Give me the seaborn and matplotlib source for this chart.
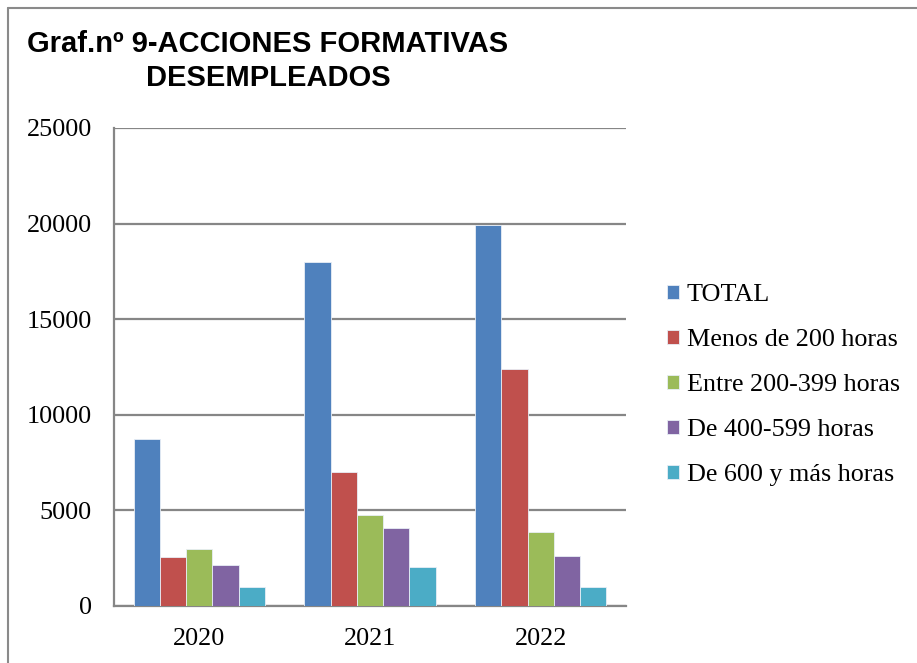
import matplotlib
matplotlib.use('Agg')
import matplotlib.pyplot as plt
import seaborn as sns
import pandas as pd
from matplotlib.lines import Line2D

# ---------------------------------------------------------------------------
# Data
# ---------------------------------------------------------------------------
years  = ['2020', '2021', '2022']
series = ['TOTAL', 'Menos de 200 horas', 'Entre 200-399 horas',
          'De 400-599 horas', 'De 600 y más horas']

total      = [8750, 17980, 19930]
menos200   = [2540, 7020, 12380]
entre200   = [2960, 4770, 3880]
de400      = [2170, 4070, 2610]
de600      = [1000, 2030, 1010]

colors = ['#4F81BD', '#C0504D', '#9BBB59', '#8064A2', '#4BACC6']

rows = []
for s, vals in zip(series, [total, menos200, entre200, de400, de600]):
    for y, v in zip(years, vals):
        rows.append({'year': y, 'serie': s, 'value': v})
df = pd.DataFrame(rows)

# ---------------------------------------------------------------------------
# Plot
# ---------------------------------------------------------------------------
sns.set_style('white')
plt.rcParams['font.family'] = ['Liberation Serif', 'DejaVu Serif']
plt.rcParams['text.color'] = 'black'
plt.rcParams['xtick.color'] = 'black'
plt.rcParams['ytick.color'] = 'black'

fig = plt.figure(figsize=(9.17, 6.63), dpi=100)
ax = fig.add_axes([114 / 917, 1 - 606 / 663, 512 / 917, 478 / 663])

sns.barplot(data=df, x='year', y='value', hue='serie', hue_order=series,
            order=years, palette=colors, width=0.77, gap=0, ax=ax,
            edgecolor='#e8eef6', linewidth=0.6, saturation=1, zorder=3)

ax.set_ylim(0, 25000)
ax.set_yticks(range(0, 25001, 5000))
ax.yaxis.grid(True, color='#868686', linewidth=1.6, zorder=0)
ax.set_axisbelow(True)
ax.set_xlabel('')
ax.set_ylabel('')
ax.tick_params(axis='y', length=0, pad=16, labelsize=18.8)
ax.tick_params(axis='x', length=0, pad=16, labelsize=18.8)
for side in ['top', 'right']:
    ax.spines[side].set_visible(False)
for side in ['left', 'bottom']:
    ax.spines[side].set_color('#868686')
    ax.spines[side].set_linewidth(1.6)

ax.legend(loc='center left', bbox_to_anchor=(667 / 917, 1 - 385 / 663),
          bbox_transform=fig.transFigure, frameon=False, fontsize=18.8,
          handlelength=0.45, handleheight=0.45, handletextpad=0.3,
          labelspacing=0.88, borderaxespad=0, borderpad=0)

fig.text(268 / 917, 1 - 61 / 663, 'Graf.nº 9-ACCIONES FORMATIVAS\nDESEMPLEADOS',
         ha='center', va='center', fontsize=21, fontweight='bold', color='black',
         family=['Liberation Sans', 'DejaVu Sans'], linespacing=1.3)

# outer chart border (left and top only visible)
fig.add_artist(Line2D([7.5 / 917, 7.5 / 917], [0, 1 - 7.5 / 663],
                      transform=fig.transFigure, color='#8a8a8a', linewidth=1.5))
fig.add_artist(Line2D([7.5 / 917, 1], [1 - 7.5 / 663, 1 - 7.5 / 663],
                      transform=fig.transFigure, color='#8a8a8a', linewidth=1.5))

fig.savefig('out.png', dpi=100)
